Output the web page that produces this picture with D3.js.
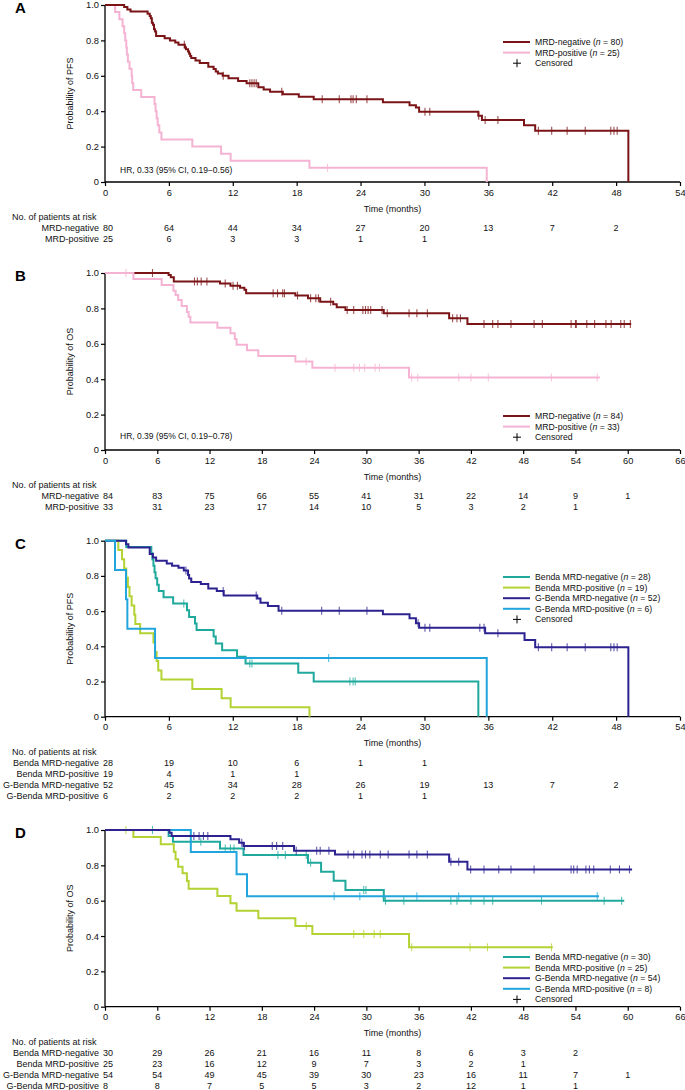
<!DOCTYPE html>
<html><head><meta charset="utf-8">
<script src="https://cdn.jsdelivr.net/npm/d3@7"></script>
<style>
body{margin:0;background:#fff}
svg{display:block;font-family:"Liberation Sans",Arial,Helvetica,sans-serif}
</style>
</head><body>
<svg id="chart" width="685" height="1090"></svg>
<script>
// ---------------- DATA ----------------
const pfsTicks = [0,6,12,18,24,30,36,42,48,54];
const osTicks = [0,6,12,18,24,30,36,42,48,54,60,66];
const probTicks = [0,0.2,0.4,0.6,0.8,1.0];
const probTickLabels = ["0","0.2","0.4","0.6","0.8","1.0"];

// Panel A (PFS, MRD status)
const aNegTimes = [1.8,2.1,2.4,4.0,4.2,4.3,4.4,4.5,4.6,4.7,4.8,5.6,6.1,6.6,6.9,7.5,7.6,7.8,7.9,8.0,8.1,8.5,8.9,9.7,10.2,10.4,10.6,11.05,11.6,12.5,13.3,14.4,14.9,15.5,16.7,18.2,19.6,26.1,28.6,29.2,29.5,35.06,35.4,39.35,40.4,49.15];
const aNegSurv  = [0.988,0.975,0.963,0.95,0.938,0.925,0.9,0.888,0.863,0.85,0.825,0.812,0.8,0.788,0.775,0.762,0.75,0.737,0.725,0.712,0.70,0.687,0.672,0.651,0.638,0.625,0.613,0.6,0.586,0.571,0.558,0.535,0.523,0.51,0.496,0.481,0.467,0.45,0.433,0.421,0.397,0.375,0.35,0.32,0.29,0];
const aNegCensor = [7.45,11.1,13.6,13.8,14.0,14.2,16.6,20.4,22.0,23.1,23.3,23.6,24.6,30.05,30.5,35.1,35.7,36.9,40.7,41.95,43.4,45.1,47.5,47.8,48.1];
const aNegEnd = 49.15;
const aPosTimes = [0.95,1.35,1.65,1.8,1.9,2.0,2.05,2.15,2.3,2.5,2.55,2.65,3.4,4.65,4.75,4.85,4.95,5.1,5.3,8.2,10.9,11.8,19.2,35.85];
const aPosSurv  = [0.96,0.92,0.88,0.84,0.80,0.76,0.72,0.68,0.64,0.60,0.56,0.52,0.48,0.44,0.40,0.36,0.32,0.28,0.24,0.20,0.16,0.12,0.08,0];
const aPosCensor = [20.9];
const aPosEnd = 35.85;
const aRiskNeg = [80,64,44,34,27,20,13,7,2];
const aRiskPos = [25,6,3,3,1,1];

// Panel B (OS, MRD status)
const bNegTimes = [7.3,7.55,7.9,13.2,14.4,15.5,16.0,16.2,21.85,23.3,24.7,26.2,26.6,27.6,32.0,39.5,41.6];
const bNegSurv  = [0.988,0.976,0.952,0.94,0.928,0.917,0.905,0.885,0.873,0.858,0.838,0.823,0.806,0.791,0.772,0.744,0.712];
const bNegCensor = [5.45,10.27,10.6,11.04,11.7,13.8,14.7,15.2,19.3,19.8,20.4,20.6,22.1,23.6,24.2,24.5,25.9,27.8,28.55,29.6,29.9,30.2,30.5,31.8,32.4,34.9,35.8,37.0,39.9,40.4,40.8,43.5,44.5,45.1,46.6,49.25,50.2,53.5,54.0,54.1,55.3,56.2,57.5,58.1,59.2,59.6,60.3];
const bNegEnd = 60.4;
const bPosTimes = [3.26,6.5,7.85,8.1,8.4,8.8,9.4,9.6,9.8,12.9,14.4,14.9,15.1,16.3,17.6,21.85,23.8,34.9];
const bPosSurv  = [0.966,0.932,0.90,0.876,0.847,0.813,0.78,0.753,0.72,0.69,0.66,0.627,0.594,0.563,0.531,0.50,0.465,0.41];
const bPosCensor = [2.4,23.1,26.4,28.55,29.2,29.8,31.0,31.5,35.2,35.9,40.6,42.0,44.0,51.25,56.5];
const bPosEnd = 56.8;
const bRiskNeg = [84,83,75,66,55,41,31,22,14,9,1];
const bRiskPos = [33,31,23,17,14,10,5,3,2,1];

// Panel C (PFS, by arm and MRD status)
const cBNegTimes = [2.0,4.35,4.45,4.55,4.65,4.75,4.9,5.05,5.5,6.4,7.7,7.9,8.45,8.6,10.2,10.4,11.0,12.4,13.2,18.15,19.6,35.06];
const cBNegSurv  = [0.964,0.929,0.893,0.857,0.821,0.786,0.75,0.714,0.679,0.643,0.605,0.567,0.53,0.492,0.455,0.416,0.378,0.34,0.302,0.25,0.2,0];
const cBNegCensor = [7.4,13.6,13.8,23.0,23.3,23.5];
const cBNegEnd = 35.06;
const cBPosTimes = [1.25,1.6,1.8,2.0,2.15,2.3,2.5,2.75,2.85,3.3,4.55,4.7,4.85,5.0,5.3,8.2,10.95,11.8,19.2];
const cBPosSurv  = [0.947,0.895,0.842,0.789,0.737,0.684,0.632,0.579,0.526,0.474,0.421,0.368,0.316,0.263,0.211,0.158,0.105,0.053,0];
const cBPosCensor = [];
const cBPosEnd = 19.2;
const cGNegTimes = [1.97,2.2,4.2,4.5,4.8,5.8,6.3,6.9,7.4,7.8,7.9,8.1,9.0,9.7,10.5,11.15,14.3,14.6,15.3,16.3,26.1,28.6,29.2,29.5,35.7,39.4,40.4,49.15];
const cGNegSurv  = [0.98,0.962,0.924,0.905,0.886,0.871,0.858,0.847,0.83,0.805,0.785,0.766,0.754,0.729,0.714,0.688,0.672,0.648,0.629,0.602,0.582,0.559,0.531,0.506,0.474,0.436,0.394,0];
const cGNegCensor = [7.6,11.1,14.2,16.6,20.35,22.0,24.6,29.4,30.05,30.5,35.2,35.6,36.9,40.7,41.95,43.4,45.1,47.5,47.8,48.1];
const cGNegEnd = 49.15;
const cGPosTimes = [0.94,1.97,2.1,4.7,35.85];
const cGPosSurv  = [0.833,0.667,0.5,0.333,0];
const cGPosCensor = [21.0];
const cGPosEnd = 35.85;
const cRiskBNeg = [28,19,10,6,1,1];
const cRiskBPos = [19,4,1,1];
const cRiskGNeg = [52,45,34,28,26,19,13,7,2];
const cRiskGPos = [6,2,2,2,1,1];

// Panel D (OS, by arm and MRD status)
const dBNegTimes = [7.3,7.8,13.2,15.9,23.3,24.8,26.25,27.6,32.0];
const dBNegSurv  = [0.966,0.934,0.896,0.859,0.815,0.764,0.713,0.66,0.6];
const dBNegCensor = [5.45,11.0,13.8,14.4,14.8,19.85,20.7,23.1,23.6,29.7,29.95,32.2,34.3,39.7,40.4,42.0,43.5,44.5,50.1,57.3,59.3];
const dBNegEnd = 59.6;
const dBPosTimes = [3.26,6.4,7.9,8.1,8.4,8.9,9.4,9.6,12.9,14.4,15.1,17.6,21.85,23.8,34.9];
const dBPosSurv  = [0.96,0.92,0.877,0.834,0.792,0.755,0.711,0.667,0.627,0.585,0.543,0.50,0.457,0.411,0.336];
const dBPosCensor = [2.4,23.1,28.55,29.7,30.9,31.6,35.2,41.9,43.9,51.25];
const dBPosEnd = 51.4;
const dGNegTimes = [7.4,7.65,14.4,15.4,15.9,21.7,26.4,39.5,41.6];
const dGNegSurv  = [0.985,0.966,0.947,0.928,0.909,0.883,0.862,0.821,0.777];
const dGNegCensor = [10.2,10.8,11.3,11.8,15.7,16.0,19.2,19.7,20.4,21.95,24.3,24.7,25.7,27.9,28.55,29.5,29.9,30.4,31.6,32.5,34.9,35.8,37.0,39.7,40.6,41.97,43.5,45.2,46.6,49.25,53.5,53.8,54.2,55.2,55.6,56.1,58.0,59.05,60.2];
const dGNegEnd = 60.5;
const dGPosTimes = [9.85,15.1,16.3];
const dGPosSurv  = [0.875,0.75,0.625];
const dGPosCensor = [26.3,29.25,35.8,40.6,56.5];
const dGPosEnd = 56.7;
const dRiskBNeg = [30,29,26,21,16,11,8,6,3,2];
const dRiskBPos = [25,23,16,12,9,7,3,2,1];
const dRiskGNeg = [54,54,49,45,39,30,23,16,11,7,1];
const dRiskGPos = [8,8,7,5,5,3,2,12,1,1];

// ---------------- STYLE / LAYOUT ----------------
const COL = {
  neg:"#7b1416", pos:"#f5b3d3",
  bneg:"#1fa99d", bpos:"#b3d233", gneg:"#2c2290", gpos:"#21a5dc"
};
const mk = (label,n,color,times,surv,censor,end)=>({label,n,color,times,surv,censor,end});

const panels = [
  {letter:"A", top:5, bottom:182, ticks:pfsTicks, yTitle:"Probability of PFS",
   hr:"HR, 0.33 (95% CI, 0.19\u22120.56)", hrY:170, legY:42,
   drawOrder:[1,0],
   series:[mk("MRD-negative",80,COL.neg,aNegTimes,aNegSurv,aNegCensor,aNegEnd),
           mk("MRD-positive",25,COL.pos,aPosTimes,aPosSurv,aPosCensor,aPosEnd)],
   risk:[["MRD-negative",aRiskNeg],["MRD-positive",aRiskPos]]},
  {letter:"B", top:273, bottom:450, ticks:osTicks, yTitle:"Probability of OS",
   hr:"HR, 0.39 (95% CI, 0.19\u22120.78)", hrY:436, legY:416,
   drawOrder:[0,1],
   series:[mk("MRD-negative",84,COL.neg,bNegTimes,bNegSurv,bNegCensor,bNegEnd),
           mk("MRD-positive",33,COL.pos,bPosTimes,bPosSurv,bPosCensor,bPosEnd)],
   risk:[["MRD-negative",bRiskNeg],["MRD-positive",bRiskPos]]},
  {letter:"C", top:540.7, bottom:716.7, ticks:pfsTicks, yTitle:"Probability of PFS",
   hr:null, legY:577,
   drawOrder:[0,1,2,3],
   series:[mk("Benda MRD-negative",28,COL.bneg,cBNegTimes,cBNegSurv,cBNegCensor,cBNegEnd),
           mk("Benda MRD-positive",19,COL.bpos,cBPosTimes,cBPosSurv,cBPosCensor,cBPosEnd),
           mk("G-Benda MRD-negative",52,COL.gneg,cGNegTimes,cGNegSurv,cGNegCensor,cGNegEnd),
           mk("G-Benda MRD-positive",6,COL.gpos,cGPosTimes,cGPosSurv,cGPosCensor,cGPosEnd)],
   risk:[["Benda MRD-negative",cRiskBNeg],["Benda MRD-positive",cRiskBPos],["G-Benda MRD-negative",cRiskGNeg],["G-Benda MRD-positive",cRiskGPos]]},
  {letter:"D", top:830, bottom:1006.7, ticks:osTicks, yTitle:"Probability of OS",
   hr:null, legY:957,
   drawOrder:[1,0,3,2],
   series:[mk("Benda MRD-negative",30,COL.bneg,dBNegTimes,dBNegSurv,dBNegCensor,dBNegEnd),
           mk("Benda MRD-positive",25,COL.bpos,dBPosTimes,dBPosSurv,dBPosCensor,dBPosEnd),
           mk("G-Benda MRD-negative",54,COL.gneg,dGNegTimes,dGNegSurv,dGNegCensor,dGNegEnd),
           mk("G-Benda MRD-positive",8,COL.gpos,dGPosTimes,dGPosSurv,dGPosCensor,dGPosEnd)],
   risk:[["Benda MRD-negative",dRiskBNeg],["Benda MRD-positive",dRiskBPos],["G-Benda MRD-negative",dRiskGNeg],["G-Benda MRD-positive",dRiskGPos]]}
];

const svg = d3.select("#chart");
svg.append("rect").attr("width",685).attr("height",1090).attr("fill","#fff");
const LEFT = 105, RIGHT = 680;
const FS = 9;

panels.forEach(p=>{
  const g = svg.append("g");
  const x = d3.scaleLinear().domain([0, d3.max(p.ticks)]).range([LEFT, RIGHT]);
  const y = d3.scaleLinear().domain([0,1]).range([p.bottom, p.top]);

  // panel letter
  g.append("text").attr("x",15).attr("y",p.top+8).attr("font-size",15).attr("font-weight","bold").text(p.letter);

  // axes
  const xa = g.append("g").attr("transform",`translate(0,${p.bottom})`)
    .call(d3.axisBottom(x).tickValues(p.ticks).tickSize(4).tickPadding(3).tickFormat(d3.format("d")));
  const ya = g.append("g").attr("transform",`translate(${LEFT},0)`)
    .call(d3.axisLeft(y).tickValues(probTicks).tickSize(4).tickPadding(2).tickFormat((d,i)=>probTickLabels[i]));
  [xa,ya].forEach(a=>{
    a.select(".domain").attr("stroke","#000").attr("stroke-width",1.3);
    a.selectAll(".tick line").attr("stroke","#000").attr("stroke-width",1.2);
    a.selectAll(".tick text").attr("font-size",9.3).attr("fill","#111").attr("font-family","Liberation Sans, Arial, sans-serif");
  });
  xa.select(".domain").attr("d",`M${LEFT},0H${RIGHT}`);
  ya.select(".domain").attr("d",`M0,${p.bottom}V${p.top}`);

  // y title
  g.append("text").attr("transform",`translate(73,${(p.top+p.bottom)/2}) rotate(-90)`)
    .attr("text-anchor","middle").attr("font-size",FS).attr("fill","#111").text(p.yTitle);
  // x title
  g.append("text").attr("x",(LEFT+RIGHT)/2).attr("y",p.bottom+29.5).attr("text-anchor","middle")
    .attr("font-size",FS).attr("fill","#111").text("Time (months)");

  // curves
  const line = d3.line().x(d=>x(d[0])).y(d=>y(d[1])).curve(d3.curveStepAfter);
  p.drawOrder.forEach(i=>{
    const s = p.series[i];
    const pts = [[0,1]].concat(s.times.map((t,k)=>[t,s.surv[k]]));
    const last = pts[pts.length-1];
    if (s.end > last[0]) pts.push([s.end, last[1]]);
    g.append("path").attr("d",line(pts)).attr("fill","none").attr("stroke",s.color)
      .attr("stroke-width",2).attr("stroke-linejoin","miter");
    const survAt = t=>{ const k = d3.bisectRight(s.times,t); return k===0?1:s.surv[k-1]; };
    g.selectAll(null).data(s.censor).join("line")
      .attr("x1",d=>x(d)).attr("x2",d=>x(d))
      .attr("y1",d=>y(survAt(d))-4).attr("y2",d=>y(survAt(d))+4)
      .attr("stroke",s.color).attr("stroke-opacity",0.75).attr("stroke-width",1.1);
  });

  // HR text
  if (p.hr) g.append("text").attr("x",120).attr("y",p.hrY+3).attr("font-size",8.5).attr("fill","#111").text(p.hr);

  // legend
  const lg = g.append("g");
  p.series.forEach((s,i)=>{
    const yy = p.legY + i*10.6;
    lg.append("line").attr("x1",503).attr("x2",530).attr("y1",yy).attr("y2",yy).attr("stroke",s.color).attr("stroke-width",2);
    const t = lg.append("text").attr("x",535).attr("y",yy+3).attr("font-size",8.7).attr("fill","#111");
    t.append("tspan").text(s.label+" (");
    t.append("tspan").attr("font-style","italic").text("n");
    t.append("tspan").text(" = "+s.n+")");
  });
  const cy = p.legY + p.series.length*10.6;
  lg.append("line").attr("x1",517).attr("x2",517).attr("y1",cy-4).attr("y2",cy+4).attr("stroke","#000").attr("stroke-width",1);
  lg.append("line").attr("x1",513).attr("x2",521).attr("y1",cy).attr("y2",cy).attr("stroke","#000").attr("stroke-width",1);
  lg.append("text").attr("x",535).attr("y",cy+3).attr("font-size",8.7).attr("fill","#111").text("Censored");

  // risk table
  const rt = g.append("g").attr("font-size",9).attr("fill","#111");
  rt.append("text").attr("x",12).attr("y",p.bottom+38).text("No. of patients at risk");
  p.risk.forEach((r,i)=>{
    const yy = p.bottom + 49 + i*11;
    rt.append("text").attr("x",99).attr("y",yy).attr("text-anchor","end").text(r[0]);
    r[1].forEach((v,k)=>{
      const t = p.ticks[k];
      rt.append("text").attr("x", k===0 ? x(t)-2 : x(t)).attr("y",yy)
        .attr("text-anchor", k===0 ? "start" : "middle").text(v);
    });
  });
});
</script>
</body></html>
